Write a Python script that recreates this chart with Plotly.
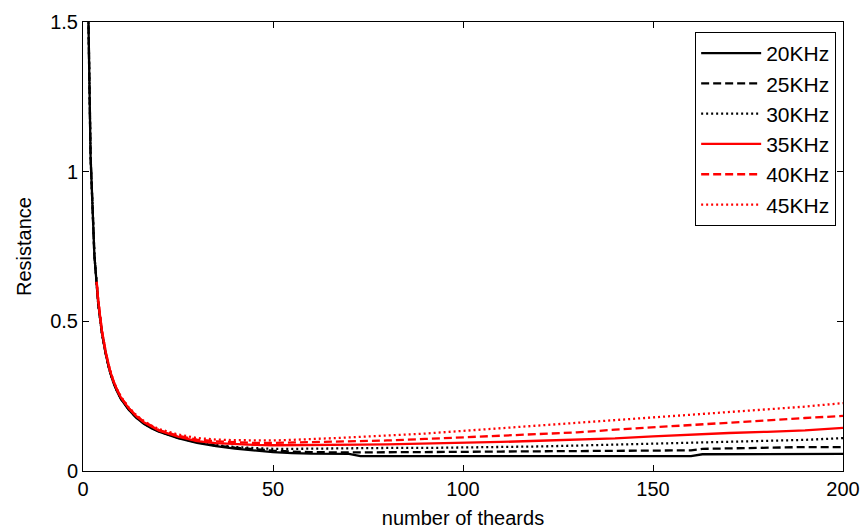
import plotly.graph_objects as go

# number of threads (x) and resistance values per frequency
x_black = [1, 2, 3, 4, 5, 6, 7, 8, 9, 10, 12, 14, 16, 18, 20, 25, 30, 35, 40, 45, 50, 55, 60, 70, 73,
           80, 90, 100, 110, 120, 130, 140, 150, 160, 163, 170, 180, 190, 200]
x_red = [3.6, 4, 5, 6, 7, 8, 9, 10, 12, 14, 16, 18, 20, 25, 30, 35, 40, 45, 50, 55, 60, 70, 73,
         80, 90, 100, 110, 120, 130, 140, 150, 160, 163, 170, 180, 190, 200]

r_20k = [1.85, 1.05, 0.72, 0.56, 0.46, 0.39, 0.335, 0.295, 0.265, 0.24, 0.205, 0.178, 0.158, 0.143, 0.131,
         0.110, 0.094, 0.083, 0.075, 0.068, 0.063, 0.060, 0.058, 0.057, 0.050,
         0.050, 0.050, 0.050, 0.050, 0.050, 0.050, 0.050, 0.050, 0.050, 0.056, 0.056, 0.056, 0.056, 0.057]
r_25k = [1.85, 1.05, 0.72, 0.56, 0.46, 0.39, 0.335, 0.296, 0.266, 0.241, 0.206, 0.179, 0.159, 0.144, 0.132,
         0.111, 0.096, 0.085, 0.078, 0.072, 0.068, 0.065, 0.063, 0.062, 0.062,
         0.062, 0.063, 0.064, 0.065, 0.066, 0.067, 0.068, 0.069, 0.069, 0.074, 0.076, 0.077, 0.080, 0.080]
r_30k = [1.85, 1.05, 0.72, 0.56, 0.46, 0.39, 0.336, 0.297, 0.267, 0.242, 0.207, 0.180, 0.160, 0.145, 0.133,
         0.112, 0.098, 0.087, 0.080, 0.076, 0.074, 0.074, 0.075, 0.076, 0.076,
         0.077, 0.077, 0.078, 0.080, 0.082, 0.085, 0.088, 0.092, 0.095, 0.095, 0.097, 0.101, 0.104, 0.110]
r_35k = [0.632, 0.57, 0.465, 0.395, 0.34, 0.30, 0.27, 0.245, 0.210, 0.183, 0.163, 0.148, 0.135,
         0.115, 0.100, 0.093, 0.089, 0.087, 0.086, 0.086, 0.086, 0.087, 0.088,
         0.089, 0.091, 0.094, 0.097, 0.101, 0.105, 0.109, 0.116, 0.122, 0.122, 0.127, 0.131, 0.136, 0.144]
r_40k = [0.632, 0.57, 0.466, 0.396, 0.341, 0.301, 0.271, 0.246, 0.211, 0.185, 0.165, 0.150, 0.137,
         0.118, 0.105, 0.099, 0.096, 0.094, 0.094, 0.095, 0.096, 0.099, 0.100,
         0.102, 0.107, 0.112, 0.117, 0.123, 0.129, 0.138, 0.146, 0.155, 0.157, 0.163, 0.170, 0.177, 0.184]
r_45k = [0.632, 0.57, 0.467, 0.397, 0.342, 0.302, 0.272, 0.248, 0.213, 0.187, 0.167, 0.152, 0.140,
         0.122, 0.110, 0.105, 0.103, 0.102, 0.102, 0.104, 0.106, 0.112, 0.114,
         0.118, 0.125, 0.134, 0.143, 0.152, 0.160, 0.168, 0.178, 0.187, 0.190, 0.196, 0.206, 0.215, 0.227]

series = [
    ("20KHz", x_black, r_20k, "black", "solid"),
    ("25KHz", x_black, r_25k, "black", "8px,4px"),
    ("30KHz", x_black, r_30k, "black", "2px,3px"),
    ("35KHz", x_red, r_35k, "red", "solid"),
    ("40KHz", x_red, r_40k, "red", "8px,4px"),
    ("45KHz", x_red, r_45k, "red", "2px,3px"),
]

FONT = "Arial, Liberation Sans, sans-serif"
FS = 20
FS_LEGEND = 21

fig = go.Figure()
for name, xs, ys, color, dash in series:
    fig.add_trace(go.Scatter(
        x=xs, y=ys, mode="lines", name=name, legendgroup=name,
        line=dict(color=color, width=2.3, dash=dash),
    ))

axis_common = dict(
    showline=True, linecolor="black", linewidth=1, mirror="ticks",
    ticks="inside", ticklen=6, tickcolor="black", showgrid=False, zeroline=False,
    tickfont=dict(family=FONT, size=FS, color="black"),
)

fig.update_xaxes(
    range=[0, 200], tickvals=[0, 50, 100, 150, 200],
    title=dict(text="number of theards", font=dict(family=FONT, size=FS, color="black"), standoff=11),
    **axis_common,
)
fig.update_yaxes(
    range=[0, 1.5], tickvals=[0, 0.5, 1, 1.5], ticktext=["0", "0.5", "1", "1.5"],
    title=dict(text="Resistance", font=dict(family=FONT, size=FS, color="black"), standoff=13),
    **axis_common,
)

fig.update_layout(
    width=867, height=532,
    margin=dict(l=83, r=24, t=22, b=61, autoexpand=False),
    paper_bgcolor="white", plot_bgcolor="white",
    font=dict(family=FONT, size=FS, color="black"),
    legend=dict(
        x=0.991, y=0.978, xanchor="right", yanchor="top",
        bgcolor="white", bordercolor="black", borderwidth=1,
        font=dict(family=FONT, size=FS_LEGEND, color="black"),
        tracegroupgap=0, itemwidth=60,
    ),
    showlegend=True,
)

fig.write_html("out.html")
